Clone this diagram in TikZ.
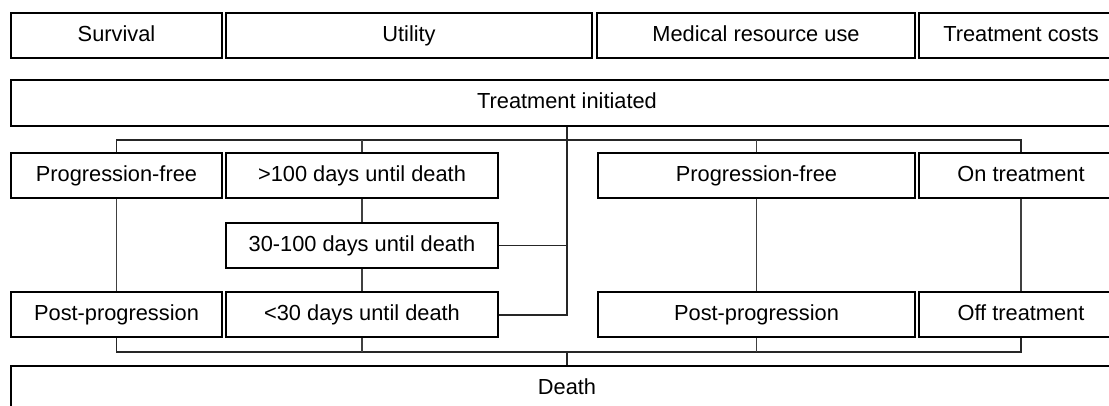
\documentclass[tikz,border=0pt]{standalone}
\usepackage{fontspec}
\setmainfont{Liberation Sans}
\usetikzlibrary{positioning}

\begin{document}
\begin{tikzpicture}[x=0.5pt,y=-0.5pt,
  box/.style={draw=black,line width=1pt,fill=white,minimum height=22.5pt,inner sep=0pt,text height=7.9pt,text depth=2.3pt,font=\fontsize{10.9}{13}\selectfont},
  link/.style={draw=black!75,line width=0.6pt},
  bus/.style={draw=black!85,line width=0.9pt}]
 \useasboundingbox (0,0) rectangle (1109,406);
 \clip (0,0) rectangle (1109,406);
 \node[box,minimum width=105.5pt] (sv) at (116.5,35.5) {Survival};
 \node[box,minimum width=183pt] (ut) at (409,35.5) {Utility};
 \node[box,minimum width=159pt] (mr) at (756,35.5) {Medical resource use};
 \node[box,minimum width=102pt] (tc) at (1021,35.5) {Treatment costs};
 \node[box,minimum width=556pt,minimum height=23pt] (ti) at (567,103) {Treatment initiated};
 \node[box,minimum width=105.5pt] (pf) at (116.5,176) {Progression-free};
 \node[box,minimum width=136pt] (gt100) at (362,176) {>100 days until death};
 \node[box,minimum width=158.5pt] (pf2) at (756.5,176) {Progression-free};
 \node[box,minimum width=102pt] (on) at (1021,176) {On treatment};
 \node[box,minimum width=136pt] (d30) at (362,245.5) {30-100 days until death};
 \node[box,minimum width=105.5pt] (pp) at (116.5,315) {Post-progression};
 \node[box,minimum width=136pt] (lt30) at (362,315) {<30 days until death};
 \node[box,minimum width=158.5pt] (pp2) at (756.5,315) {Post-progression};
 \node[box,minimum width=102pt] (off) at (1021,315) {Off treatment};
 \node[box,minimum width=556pt,minimum height=23pt] (death) at (567,389) {Death};
 \coordinate (busT) at (0,140);
 \coordinate (busB) at (0,352);
 \coordinate (hub) at (ti.south |- lt30.east);
 \draw[bus] (pf.north) |- (busT -| on.north) -- (on.north);
 \foreach \n in {gt100,pf2} \draw[link] (\n.north) -- (\n.north |- busT);
 \draw[bus] (pp.south) |- (busB -| off.south) -- (off.south);
 \foreach \n in {lt30,pp2} \draw[link] (\n.south) -- (\n.south |- busB);
 \draw[bus] (death.north) -- (death.north |- busB);
 \draw[bus] (ti.south) -- (hub) -- (lt30.east);
 \draw[bus] (d30.east) -- (d30.east -| hub);
 \draw[link] (pf) -- (pp);
 \draw[link] (gt100) -- (d30);
 \draw[link] (d30) -- (lt30);
 \draw[link] (pf2) -- (pp2);
 \draw[link] (on) -- (off);
\end{tikzpicture}
\end{document}
